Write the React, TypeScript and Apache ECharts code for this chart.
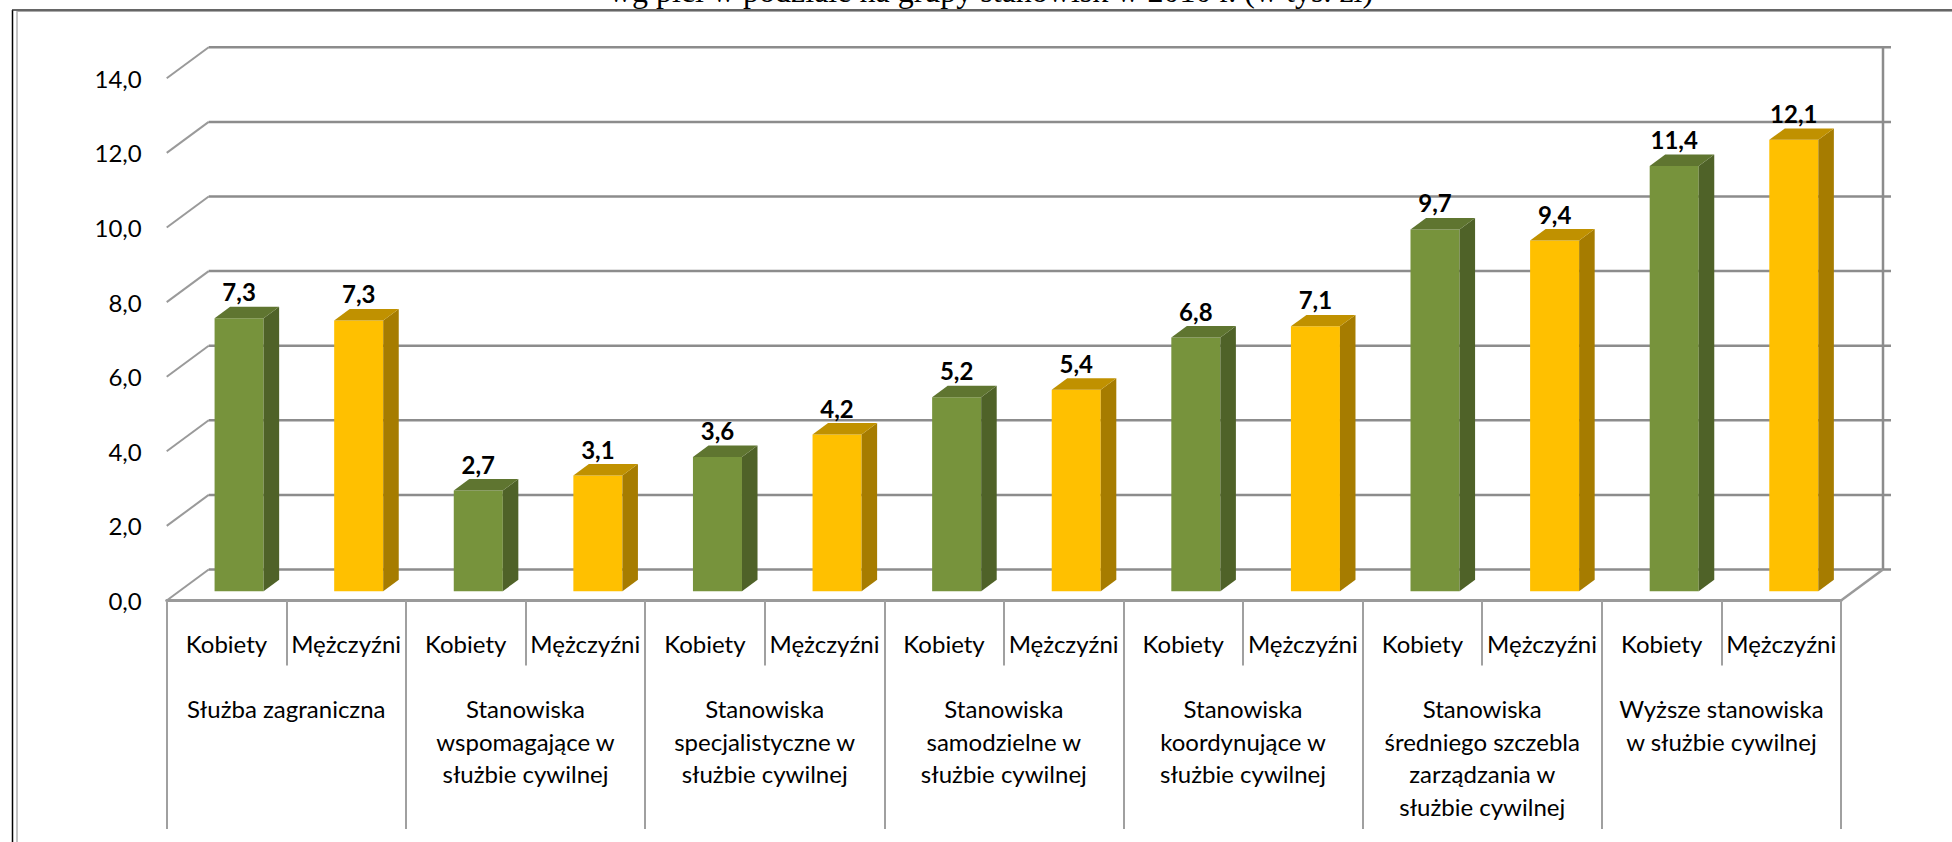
import React, { useEffect, useRef } from "react";
import * as echarts from "echarts";

const titleText = "wg płci w podziale na grupy stanowisk w 2010 r. (w tys. zł)";
const groups = [
  "Służba zagraniczna",
  "Stanowiska\nwspomagające w\nsłużbie cywilnej",
  "Stanowiska\nspecjalistyczne w\nsłużbie cywilnej",
  "Stanowiska\nsamodzielne w\nsłużbie cywilnej",
  "Stanowiska\nkoordynujące w\nsłużbie cywilnej",
  "Stanowiska\nśredniego szczebla\nzarządzania w\nsłużbie cywilnej",
  "Wyższe stanowiska\nw służbie cywilnej",
];
const genders = ["Kobiety", "Mężczyźni"];
const kobiety = [7.32, 2.7, 3.6, 5.2, 6.8, 9.7, 11.4];
const mezczyzni = [7.26, 3.1, 4.2, 5.4, 7.1, 9.4, 12.1];
const yTicks = [0, 2, 4, 6, 8, 10, 12, 14];

const FONT = "Lato";
const DX = 42;
const DY = -31;
const D0 = 0.3;
const D1 = 0.67;
const BW = 0.41;

const fmt = (v: number) => v.toFixed(1).replace(".", ",");

function barRenderer(front: string, side: string, top: string) {
  return (params: any, api: any) => {
    const idx = api.value(0);
    const v = api.value(1);
    const base = api.coord([idx, 0]);
    const tp = api.coord([idx, v]);
    const band = api.size([1, 0])[0];
    const w = band * BW;
    const ox = D0 * DX;
    const oy = D0 * DY;
    const ddx = (D1 - D0) * DX;
    const ddy = (D1 - D0) * DY;
    const x0 = base[0] + ox - w / 2;
    const x1 = x0 + w;
    const yb = base[1] + oy;
    const yt = tp[1] + oy;
    return {
      type: "group",
      children: [
        { type: "rect", shape: { x: x0, y: yt, width: w, height: yb - yt }, style: { fill: front } },
        {
          type: "polygon",
          shape: { points: [[x1, yt], [x1 + ddx, yt + ddy], [x1 + ddx, yb + ddy], [x1, yb]] },
          style: { fill: side },
        },
        {
          type: "polygon",
          shape: { points: [[x0, yt], [x1, yt], [x1 + ddx, yt + ddy], [x0 + ddx, yt + ddy]] },
          style: { fill: top },
        },
        {
          type: "text",
          x: x0 + w / 2,
          y: yt + ddy - 15,
          style: {
            text: fmt(v),
            fontSize: 24,
            fontWeight: "bold",
            fontFamily: FONT,
            fill: "#000",
            align: "center",
            verticalAlign: "middle",
          },
        },
      ],
    };
  };
}

export default function App() {
  const ref = useRef<HTMLDivElement>(null);
  useEffect(() => {
    if (!ref.current) return;
    const chart = echarts.init(ref.current, undefined, { renderer: "svg" });
    const subCats = groups.flatMap(() => genders);
    const lastIdx = subCats.length - 1;
    const yMax = yTicks[yTicks.length - 1];

    const wallsRender = (params: any, api: any) => {
      const v = api.value(1);
      const band = api.size([1, 0])[0];
      const pL = api.coord([0, v]);
      const pR = api.coord([lastIdx, v]);
      const L = pL[0] - band / 2;
      const R = pR[0] + band / 2;
      const y = pL[1];
      const children: any[] = [
        { type: "line", shape: { x1: L, y1: y, x2: L + DX, y2: y + DY }, style: { stroke: "#9a9a9a", lineWidth: 2 } },
        {
          type: "line",
          shape: { x1: L + DX, y1: y + DY, x2: R + DX + 8, y2: y + DY },
          style: { stroke: "#8c8c8c", lineWidth: 2.5 },
        },
      ];
      if (params.dataIndex === 0) {
        const yTop = api.coord([0, yMax])[1];
        children.push({
          type: "line",
          shape: { x1: R + DX, y1: yTop + DY, x2: R + DX, y2: y + DY },
          style: { stroke: "#8c8c8c", lineWidth: 2.5 },
        });
        children.push({
          type: "line",
          shape: { x1: R, y1: y, x2: R + DX, y2: y + DY },
          style: { stroke: "#9a9a9a", lineWidth: 2.5 },
        });
      }
      return { type: "group", children };
    };

    chart.setOption({
      animation: false,
      backgroundColor: "#fff",
      grid: {
        left: 166.7,
        right: 111,
        top: 78.3,
        bottom: 241.5,
        containLabel: false,
        outerBoundsMode: "none",
      },
      graphic: [
        { type: "line", shape: { x1: 12.5, y1: 10, x2: 12.5, y2: 842 }, style: { stroke: "#000", lineWidth: 1.5 } },
        { type: "line", shape: { x1: 17, y1: 11, x2: 17, y2: 842 }, style: { stroke: "#888", lineWidth: 1 } },
        { type: "line", shape: { x1: 12, y1: 10, x2: 1952, y2: 10 }, style: { stroke: "#333", lineWidth: 1.5 } },
        { type: "line", shape: { x1: 17, y1: 11.5, x2: 1952, y2: 11.5 }, style: { stroke: "#aaa", lineWidth: 1 } },
        {
          type: "text",
          x: 991,
          y: -9,
          style: {
            text: titleText,
            fontSize: 32,
            fontFamily: "Liberation Serif",
            fill: "#000",
            align: "center",
            verticalAlign: "middle",
          },
        },
      ],
      xAxis: [
        {
          type: "category",
          data: subCats,
          position: "bottom",
          axisLine: { show: true, lineStyle: { color: "#9a9a9a", width: 3 } },
          axisTick: { show: true, interval: 0, length: 65, lineStyle: { color: "#a0a0a0", width: 2 } },
          axisLabel: {
            interval: 0,
            fontSize: 24,
            fontFamily: FONT,
            color: "#000",
            margin: 28,
            lineHeight: 30,
          },
          splitLine: { show: false },
        },
        {
          type: "category",
          data: groups,
          position: "bottom",
          axisLine: { show: false },
          axisTick: { show: true, interval: 0, length: 228.5, lineStyle: { color: "#a0a0a0", width: 2 } },
          axisLabel: {
            interval: 0,
            fontSize: 24,
            fontFamily: FONT,
            color: "#000",
            margin: 92,
            lineHeight: 32.5,
            align: "center",
          },
          splitLine: { show: false },
        },
      ],
      yAxis: {
        type: "value",
        min: 0,
        max: yMax,
        interval: 2,
        axisLine: { show: false },
        axisTick: { show: false },
        splitLine: { show: false },
        axisLabel: {
          fontSize: 24,
          fontFamily: FONT,
          color: "#000",
          margin: 25,
          formatter: (v: number) => fmt(v),
        },
      },
      series: [
        {
          type: "custom",
          name: "walls",
          xAxisIndex: 0,
          clip: false,
          z: 1,
          silent: true,
          renderItem: wallsRender,
          data: yTicks.map((v) => [0, v]),
          encode: { x: 0, y: 1 },
        },
        {
          type: "custom",
          name: genders[0],
          xAxisIndex: 0,
          clip: false,
          z: 3,
          renderItem: barRenderer("#77933C", "#4F6228", "#5F7530"),
          data: kobiety.map((v, i) => [i * 2, v]),
          encode: { x: 0, y: 1 },
        },
        {
          type: "custom",
          name: genders[1],
          xAxisIndex: 0,
          clip: false,
          z: 3,
          renderItem: barRenderer("#FFC000", "#A67C00", "#C09100"),
          data: mezczyzni.map((v, i) => [i * 2 + 1, v]),
          encode: { x: 0, y: 1 },
        },
      ],
    });
    return () => chart.dispose();
  }, []);
  return (
    <div
      ref={ref}
      style={{ position: "absolute", left: 0, top: 0, width: 1952, height: 842, background: "#fff" }}
    />
  );
}
